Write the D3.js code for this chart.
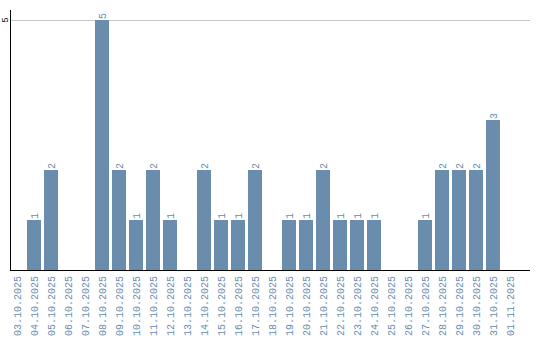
<!DOCTYPE html>
<html>
<head>
<meta charset="utf-8">
<script src="https://cdn.jsdelivr.net/npm/d3@7"></script>
<style>
  body { margin: 0; background: #fff; }
  svg text { font-family: "Liberation Mono", monospace; }
</style>
</head>
<body>
<svg id="canvas" width="540" height="340"></svg>
<script>
let dates = ['03.10.2025','04.10.2025','05.10.2025','06.10.2025','07.10.2025','08.10.2025',
    '09.10.2025','10.10.2025','11.10.2025','12.10.2025','13.10.2025','14.10.2025',
    '15.10.2025','16.10.2025','17.10.2025','18.10.2025','19.10.2025','20.10.2025',
    '21.10.2025','22.10.2025','23.10.2025','24.10.2025','25.10.2025','26.10.2025',
    '27.10.2025','28.10.2025','29.10.2025','30.10.2025','31.10.2025','01.11.2025']
let counts = [0,1,2,0,0,5, 2,1,2,1,0,2, 1,1,2,0,1,1, 2,1,1,1,0,0, 1,2,2,2,3,0]
let yTicks = [5]

let barColor = '#6a8cad'
let textColor = '#6a8cb0'

let canvas = d3.select('#canvas')

let xScale = d3.scaleBand()
    .domain(dates)
    .range([10, 517])
    .paddingInner(3 / 17)
    .paddingOuter(0)

let yScale = d3.scaleLinear()
    .domain([0, 5.2])
    .range([270, 10])

// grid line
canvas.selectAll('.grid')
    .data(yTicks)
    .enter()
    .append('line')
    .attr('x1', 10)
    .attr('x2', 530)
    .attr('y1', (d) => yScale(d) + 0.5)
    .attr('y2', (d) => yScale(d) + 0.5)
    .attr('stroke', '#c8c8c8')

let bars = dates.map((date, i) => ({date: date, value: counts[i]}))

canvas.selectAll('.bar')
    .data(bars)
    .enter()
    .append('rect')
    .attr('class', 'bar')
    .attr('x', (d) => xScale(d.date))
    .attr('y', (d) => yScale(d.value))
    .attr('width', xScale.bandwidth())
    .attr('height', (d) => yScale(0) - yScale(d.value))
    .attr('fill', barColor)

// value labels
canvas.selectAll('.value')
    .data(bars.filter((d) => d.value > 0))
    .enter()
    .append('text')
    .attr('class', 'value')
    .attr('transform', (d) => 'translate(' + (xScale(d.date) + xScale.bandwidth() / 2) + ',' + (yScale(d.value) - 1) + ') rotate(-90)')
    .attr('dy', '0.35em')
    .attr('font-size', 10)
    .attr('fill', textColor)
    .text((d) => d.value)

// x axis
let gx = canvas.append('g')
    .attr('transform', 'translate(0,270)')
    .call(d3.axisBottom(xScale).tickSize(0).tickPadding(0))
gx.select('.domain').remove()
gx.selectAll('text')
    .attr('transform', 'rotate(-90)')
    .attr('text-anchor', 'end')
    .attr('x', -6)
    .attr('y', 0)
    .attr('dy', '0.35em')
    .attr('font-size', 10)
    .attr('font-family', '"Liberation Mono", monospace')
    .attr('fill', textColor)

canvas.append('line')
    .attr('x1', 10).attr('x2', 530)
    .attr('y1', 270.5).attr('y2', 270.5)
    .attr('stroke', '#000')

// y axis
canvas.append('line')
    .attr('x1', 10.5).attr('x2', 10.5)
    .attr('y1', 10).attr('y2', 271)
    .attr('stroke', '#000')

canvas.selectAll('.ytick')
    .data(yTicks)
    .enter()
    .append('text')
    .attr('transform', (d) => 'translate(5,' + yScale(d) + ') rotate(-90)')
    .attr('text-anchor', 'middle')
    .attr('dy', '0.35em')
    .attr('font-size', 9)
    .attr('fill', '#000')
    .text((d) => d)
</script>
</body>
</html>
